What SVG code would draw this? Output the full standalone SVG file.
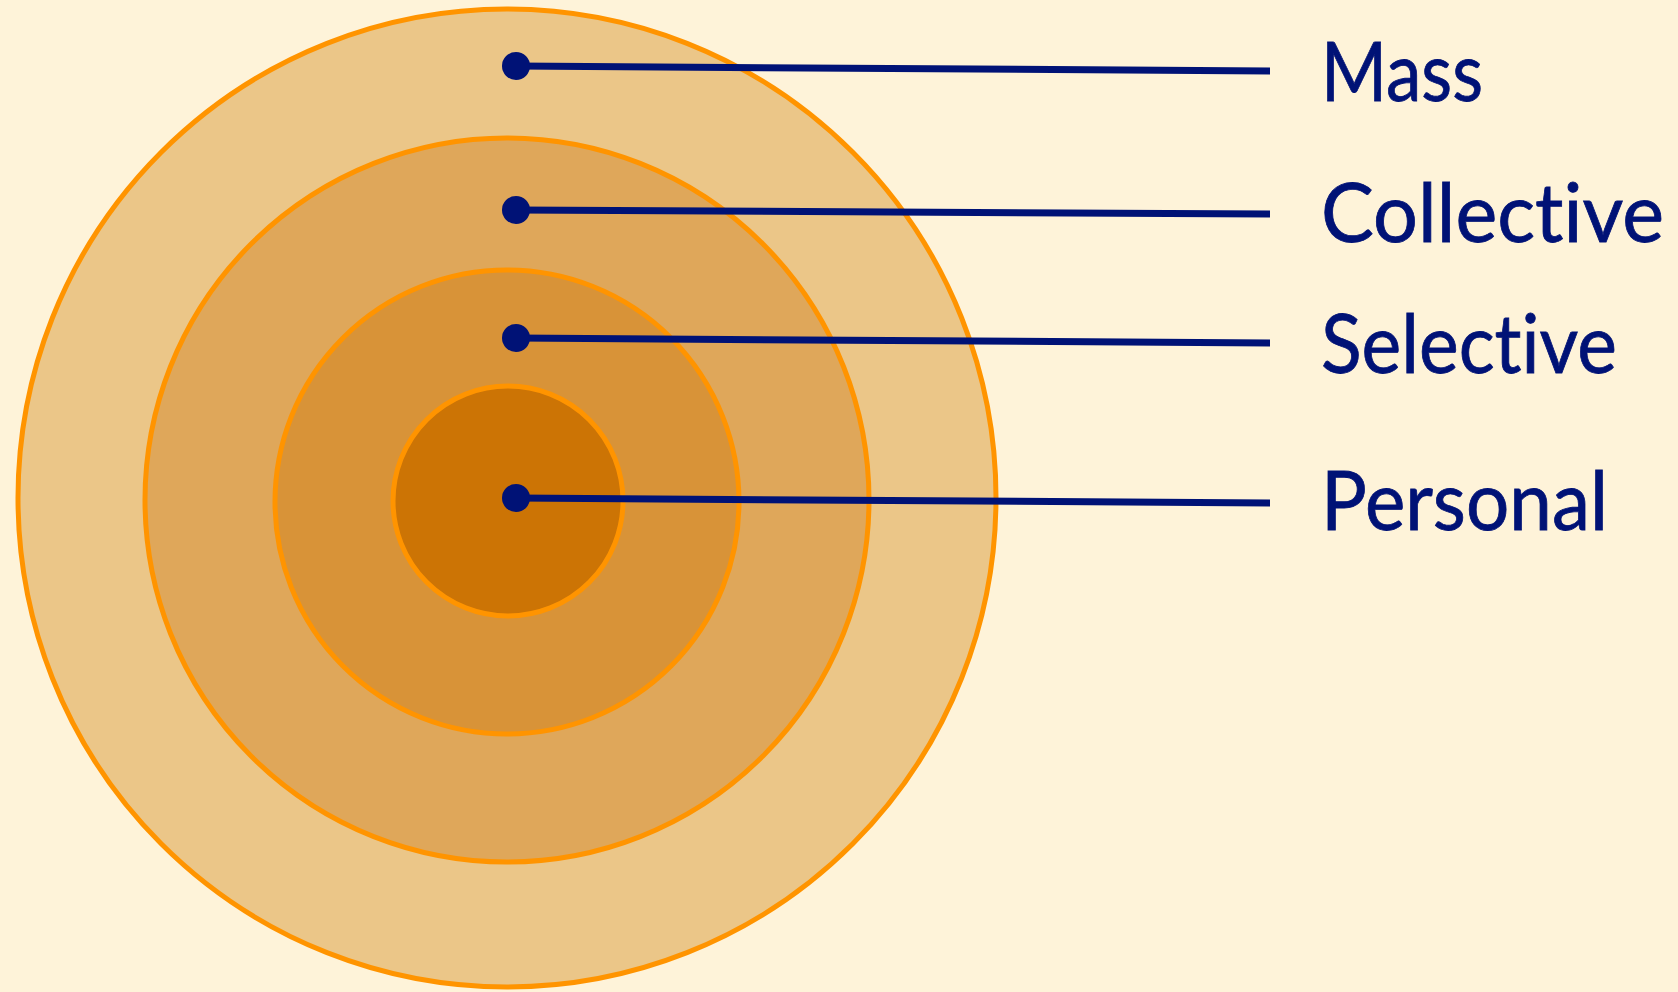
<svg xmlns="http://www.w3.org/2000/svg" width="1678" height="992" viewBox="0 0 1678 992">
<style>
.ring{stroke:#FF9400;stroke-width:5}
.lead{stroke:#001276;stroke-width:7;fill:none}
.dot{fill:#001276}
.lbl{font-family:Lato,"Open Sans","Liberation Sans",sans-serif;font-size:81px;fill:#001276;font-variant-ligatures:none;font-feature-settings:"liga" 0,"clig" 0,"dlig" 0;stroke:#001276;stroke-width:0.8}
</style>
<rect width="1678" height="992" fill="#FEF3D9"/>
<g id="ring-mass"><circle class="ring" cx="507" cy="498" r="489" fill="#EBC688"/></g>
<g id="ring-collective"><circle class="ring" cx="507" cy="500" r="362" fill="#DFA75A"/></g>
<g id="ring-selective"><circle class="ring" cx="507" cy="502" r="232" fill="#D89338"/></g>
<g id="ring-personal"><circle class="ring" cx="508" cy="501" r="115" fill="#CC7405"/></g>
<g id="connectors">
<line class="lead" x1="516" y1="66" x2="1270" y2="71"/>
<line class="lead" x1="516" y1="210" x2="1270" y2="214"/>
<line class="lead" x1="516" y1="338" x2="1270" y2="343"/>
<line class="lead" x1="516" y1="498" x2="1270" y2="503"/>
<circle class="dot" cx="516" cy="66" r="14"/>
<circle class="dot" cx="516" cy="210" r="14"/>
<circle class="dot" cx="516" cy="338" r="14"/>
<circle class="dot" cx="516" cy="498" r="14"/>
</g>
<g id="label-mass"><text class="lbl" x="1321" y="101" textLength="162" lengthAdjust="spacingAndGlyphs">Mass</text></g>
<g id="label-collective"><text class="lbl" x="1321" y="242" textLength="343" lengthAdjust="spacingAndGlyphs">Collective</text></g>
<g id="label-selective"><text class="lbl" x="1321" y="373" textLength="296" lengthAdjust="spacingAndGlyphs">Selective</text></g>
<g id="label-personal"><text class="lbl" x="1321" y="530" textLength="287" lengthAdjust="spacingAndGlyphs">Personal</text></g>
</svg>
